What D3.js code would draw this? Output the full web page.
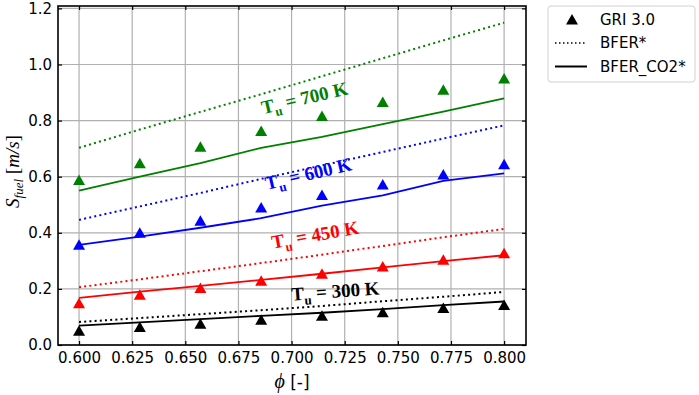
<!DOCTYPE html>
<html>
<head>
<meta charset="utf-8">
<script src="https://cdn.jsdelivr.net/npm/d3@7"></script>
<style>
  body { margin: 0; background: #fff; }
  svg { display: block; font-family: "DejaVu Sans", sans-serif; }
</style>
</head>
<body>
<svg id="chart" width="699" height="395"></svg>
<script>
// equivalence ratio values
const phi = [0.600, 0.6286, 0.6571, 0.6857, 0.7143, 0.7429, 0.7714, 0.800];
const xTicks = [0.600, 0.625, 0.650, 0.675, 0.700, 0.725, 0.750, 0.775, 0.800];
const yTicks = [0.0, 0.2, 0.4, 0.6, 0.8, 1.0, 1.2];

// GRI 3.0 (triangles)
const gri300 = [0.051, 0.064, 0.076, 0.090, 0.104, 0.117, 0.132, 0.143];
const gri450 = [0.149, 0.179, 0.203, 0.229, 0.254, 0.280, 0.304, 0.327];
const gri600 = [0.357, 0.400, 0.443, 0.490, 0.535, 0.572, 0.608, 0.644];
const gri700 = [0.588, 0.648, 0.707, 0.763, 0.816, 0.866, 0.910, 0.950];

// BFER* (dotted)
const bfer300 = [0.082, 0.096, 0.110, 0.124, 0.139, 0.156, 0.172, 0.189];
const bfer450 = [0.206, 0.234, 0.263, 0.292, 0.322, 0.353, 0.384, 0.414];
const bfer600 = [0.446, 0.494, 0.542, 0.592, 0.640, 0.688, 0.736, 0.783];
const bfer700 = [0.703, 0.768, 0.831, 0.894, 0.958, 1.022, 1.086, 1.149];

// BFER_CO2* (solid)
const co2300 = [0.069, 0.081, 0.092, 0.104, 0.115, 0.128, 0.142, 0.155];
const co2450 = [0.168, 0.190, 0.211, 0.232, 0.254, 0.277, 0.299, 0.320];
const co2600 = [0.357, 0.386, 0.418, 0.452, 0.497, 0.533, 0.585, 0.612];
const co2700 = [0.550, 0.600, 0.648, 0.703, 0.742, 0.787, 0.832, 0.879];

const temps = [300, 450, 600, 700];
const colors = ["black", "red", "blue", "green"];
// label anchor (phi, S) and tilt of the temperature annotations
const labelPhi = [0.7001, 0.6912, 0.6883, 0.6865];
const labelS = [0.158, 0.343, 0.553, 0.823];
const labelAngle = [-4, -10, -13, -13];

const series = [
    { T: temps[0], color: colors[0], gri: gri300, bfer: bfer300, co2: co2300 },
    { T: temps[1], color: colors[1], gri: gri450, bfer: bfer450, co2: co2450 },
    { T: temps[2], color: colors[2], gri: gri600, bfer: bfer600, co2: co2600 },
    { T: temps[3], color: colors[3], gri: gri700, bfer: bfer700, co2: co2700 }
];

const svg = d3.select("#chart");
const margin = { top: 6, right: 173, bottom: 50, left: 58 };
const width = +svg.attr("width") - margin.left - margin.right;
const height = +svg.attr("height") - margin.top - margin.bottom;
const g = svg.append("g").attr("transform", `translate(${margin.left},${margin.top})`);

const x = d3.scaleLinear().domain([0.5901, 0.8103]).range([0, width]);
const y = d3.scaleLinear().domain([0, 1.2085]).range([height, 0]);

// grid
g.append("g").selectAll("line")
    .data(xTicks)
    .enter().append("line")
    .attr("x1", d => x(d)).attr("x2", d => x(d))
    .attr("y1", 0).attr("y2", height)
    .attr("stroke", "#b0b0b0").attr("stroke-width", 1.2);
g.append("g").selectAll("line")
    .data(yTicks)
    .enter().append("line")
    .attr("x1", 0).attr("x2", width)
    .attr("y1", d => y(d)).attr("y2", d => y(d))
    .attr("stroke", "#b0b0b0").attr("stroke-width", 1.2);

const line = d3.line()
    .x((d, i) => x(phi[i]))
    .y(d => y(d));

const triangle = "M0,-5.5L6,5L-6,5Z";

series.forEach(s => {
    g.append("path")
        .attr("fill", "none")
        .attr("stroke", s.color)
        .attr("stroke-width", 2)
        .attr("stroke-dasharray", "2,3.2")
        .attr("d", line(s.bfer));
    g.append("path")
        .attr("fill", "none")
        .attr("stroke", s.color)
        .attr("stroke-width", 1.8)
        .attr("d", line(s.co2));
    g.append("g").selectAll("path")
        .data(s.gri)
        .enter().append("path")
        .attr("d", triangle)
        .attr("fill", s.color)
        .attr("transform", (d, i) => `translate(${x(phi[i])},${y(d)})`);
});

// temperature annotations
series.forEach((s, i) => {
    const px = x(labelPhi[i]), py = y(labelS[i]);
    const t = g.append("text")
        .attr("transform", `translate(${px},${py}) rotate(${labelAngle[i]})`)
        .attr("fill", s.color)
        .attr("font-family", "'Liberation Serif', serif")
        .attr("font-weight", "bold")
        .attr("font-size", "19px");
    t.append("tspan").text("T");
    t.append("tspan").attr("font-size", "13px").attr("dy", 5).text("u");
    t.append("tspan").attr("dy", -5).text(` = ${s.T} K`);
});

// axes with inward ticks
const xAxis = g.append("g")
    .attr("transform", `translate(0,${height})`)
    .call(d3.axisBottom(x).tickValues(xTicks).tickSize(-4).tickPadding(7).tickFormat(d3.format(".3f")));
const yAxis = g.append("g")
    .call(d3.axisLeft(y).tickValues(yTicks).tickSize(-4).tickPadding(6).tickFormat(d3.format(".1f")));
const topAxis = g.append("g")
    .call(d3.axisTop(x).tickValues(xTicks).tickSize(-4).tickFormat(""));
const rightAxis = g.append("g")
    .attr("transform", `translate(${width},0)`)
    .call(d3.axisRight(y).tickValues(yTicks).tickSize(-4).tickFormat(""));

[xAxis, yAxis, topAxis, rightAxis].forEach(a => {
    a.select(".domain").remove();
    a.selectAll(".tick line").attr("stroke", "#000").attr("stroke-width", 1.2);
    a.selectAll(".tick text")
        .attr("font-family", "'DejaVu Sans', sans-serif")
        .attr("font-size", "15px")
        .attr("fill", "#000");
});

g.append("rect")
    .attr("width", width).attr("height", height)
    .attr("fill", "none").attr("stroke", "#000").attr("stroke-width", 1.6);

// axis labels
const xl = g.append("text")
    .attr("x", width / 2).attr("y", height + 43)
    .attr("text-anchor", "middle")
    .attr("font-size", "17px");
xl.append("tspan").attr("font-family", "'Liberation Serif', serif").attr("font-style", "italic").attr("font-size", "20px").text("\u03d5");
xl.append("tspan").attr("font-family", "'DejaVu Sans', sans-serif").text(" [-]");

const yl = svg.append("text")
    .attr("transform", `translate(19,${margin.top + height / 2 - 4}) rotate(-90)`)
    .attr("text-anchor", "middle")
    .attr("font-family", "'Liberation Serif', serif")
    .attr("font-size", "19px");
yl.append("tspan").attr("font-style", "italic").text("S");
yl.append("tspan").attr("font-style", "italic").attr("font-size", "13px").attr("dy", 4).text("fuel");
yl.append("tspan").attr("dy", -4).text(" [");
yl.append("tspan").attr("font-style", "italic").text("m/s");
yl.append("tspan").text("]");

// legend
const legend = svg.append("g").attr("transform", "translate(548,6)");
legend.append("rect")
    .attr("width", 147).attr("height", 76)
    .attr("rx", 3)
    .attr("fill", "#fff").attr("stroke", "#d0d0d0").attr("stroke-width", 1);
const legendItems = ["GRI 3.0", "BFER*", "BFER_CO2*"];
legendItems.forEach((name, i) => {
    const ly = 13.5 + i * 23.5;
    if (i === 0) {
        legend.append("path").attr("d", triangle).attr("fill", "#000")
            .attr("transform", `translate(24,${ly})`);
    } else {
        legend.append("line")
            .attr("x1", 7).attr("x2", 39).attr("y1", ly).attr("y2", ly)
            .attr("stroke", "#000")
            .attr("stroke-width", i === 1 ? 1.5 : 2)
            .attr("stroke-dasharray", i === 1 ? "1.5,2.5" : null);
    }
    legend.append("text")
        .attr("x", 52).attr("y", ly)
        .attr("dy", "0.35em")
        .attr("font-size", "15px")
        .text(name);
});
</script>
</body>
</html>
